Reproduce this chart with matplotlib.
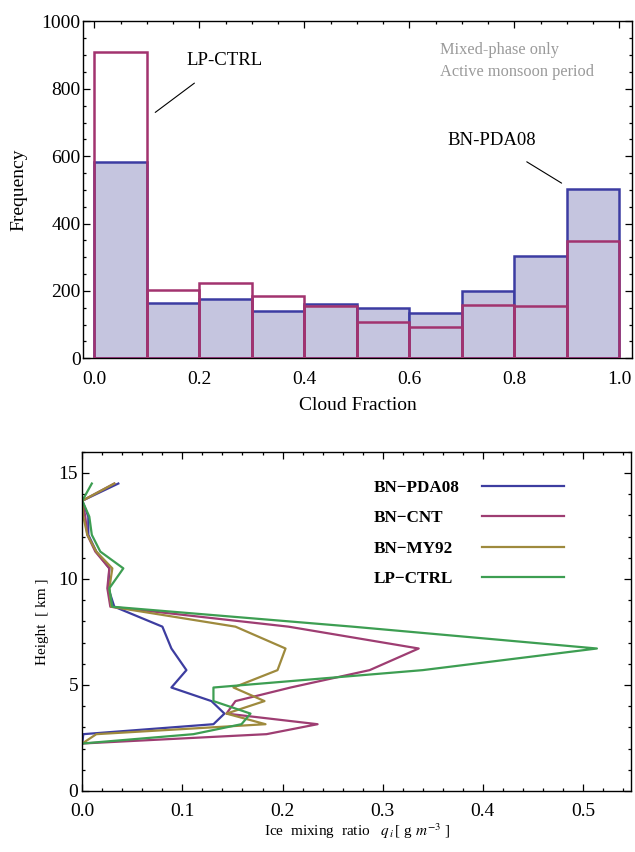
import numpy as np
import matplotlib
matplotlib.use("Agg")
import matplotlib.pyplot as plt
from matplotlib.ticker import MultipleLocator

plt.rcParams['font.family'] = ['Liberation Serif', 'DejaVu Serif']
plt.rcParams['mathtext.fontset'] = 'stix'

# ---------------- data: histogram ----------------
bin_edges = [0.0, 0.1, 0.2, 0.3, 0.4, 0.5, 0.6, 0.7, 0.8, 0.9, 1.0]
freq_bn_pda08 = [582, 165, 176, 139, 160, 148, 135, 199, 304, 504]
freq_lp_ctrl = [908, 204, 222, 184, 155, 107, 92, 158, 156, 349]

# ---------------- data: ice profiles ----------------
height_km = [14.50, 13.69, 12.94, 12.08, 11.29, 10.50, 9.56, 8.69, 7.75,
             6.72, 5.70, 4.88, 4.24, 3.65, 3.15, 2.68, 2.24]
qi_bn_pda08 = [0.036, 0.000, 0.006, 0.006, 0.014, 0.027, 0.026, 0.032, 0.080,
               0.089, 0.104, 0.089, 0.129, 0.142, 0.131, 0.001, 0.000]
qi_bn_cnt = [0.032, 0.000, 0.003, 0.005, 0.013, 0.027, 0.025, 0.028, 0.206,
             0.336, 0.287, 0.208, 0.153, 0.144, 0.235, 0.184, 0.000]
qi_bn_my92 = [0.032, 0.000, 0.001, 0.005, 0.014, 0.030, 0.027, 0.029, 0.153,
              0.203, 0.195, 0.151, 0.182, 0.144, 0.183, 0.014, 0.000]
qi_lp_ctrl = [0.0095, 0.000, 0.007, 0.0095, 0.018, 0.041, 0.027, 0.030, 0.270,
              0.514, 0.340, 0.131, 0.131, 0.168, 0.159, 0.111, 0.000]

series_names = ['BN\u2212PDA08', 'BN\u2212CNT', 'BN\u2212MY92', 'LP\u2212CTRL']
series_vals = [qi_bn_pda08, qi_bn_cnt, qi_bn_my92, qi_lp_ctrl]
series_cols = ['#3d3da0', '#9e3d72', '#9e8a3d', '#3d9e52']

blue = '#3c3ca2'
magenta = '#a2336f'
lavender = '#c5c5df'

fig = plt.figure(figsize=(6.35, 8.52), dpi=100)

def style_axes(ax):
    for s in ax.spines.values():
        s.set_linewidth(1.0)
    ax.tick_params(which='both', direction='in', top=True, right=True,
                   labelsize=14, width=0.9)
    ax.tick_params(which='major', length=5)
    ax.tick_params(which='minor', length=2.5)

# ---------------- top: histogram ----------------
ax1 = fig.add_axes([0.1312, 0.5795, 0.8640, 0.3953])
edges = np.array(bin_edges)
lefts = edges[:-1]
widths = np.diff(edges)
ax1.bar(lefts, freq_bn_pda08, width=widths, align='edge', facecolor=lavender,
        edgecolor=blue, linewidth=1.8, zorder=2)
ax1.bar(lefts, freq_lp_ctrl, width=widths, align='edge', fill=False,
        edgecolor=magenta, linewidth=1.8, zorder=3)
ax1.set_xlim(-0.021, 1.024)
ax1.set_ylim(0, 1000)
ax1.xaxis.set_major_locator(MultipleLocator(0.2))
ax1.xaxis.set_minor_locator(MultipleLocator(0.05))
ax1.yaxis.set_major_locator(MultipleLocator(200))
ax1.yaxis.set_minor_locator(MultipleLocator(50))
ax1.xaxis.set_major_formatter(plt.FuncFormatter(lambda v, p: f"{v:.1f}"))
style_axes(ax1)
ax1.tick_params(axis='y', pad=2)
ax1.tick_params(axis='x', pad=9)
ax1.set_xlabel('Cloud Fraction', fontsize=14, labelpad=7)
ax1.set_ylabel('Frequency', fontsize=14, labelpad=10)

ax1.annotate('LP-CTRL', xy=(0.116, 730), xytext=(0.249, 885), fontsize=13.5,
             ha='center', va='center',
             arrowprops=dict(arrowstyle='-', color='black', lw=0.8,
                             shrinkA=14, shrinkB=0))
ax1.annotate('BN-PDA08', xy=(0.890, 520), xytext=(0.757, 647), fontsize=13.5,
             ha='center', va='center',
             arrowprops=dict(arrowstyle='-', color='black', lw=0.8,
                             shrinkA=14, shrinkB=0))
ax1.text(0.658, 915, 'Mixed-phase only', fontsize=11.8, color='#9a9a9a',
         ha='left', va='center')
ax1.text(0.658, 849, 'Active monsoon period', fontsize=11.8, color='#9a9a9a',
         ha='left', va='center')

# ---------------- bottom: profiles ----------------
ax2 = fig.add_axes([0.1296, 0.0716, 0.8640, 0.3982])
for name, vals, col in zip(series_names, series_vals, series_cols):
    ax2.plot(vals, height_km, color=col, lw=1.6, label=name)
ax2.set_xlim(0, 0.548)
ax2.set_ylim(0, 16)
ax2.xaxis.set_major_locator(MultipleLocator(0.1))
ax2.xaxis.set_minor_locator(MultipleLocator(0.02))
ax2.yaxis.set_major_locator(MultipleLocator(5))
ax2.yaxis.set_minor_locator(MultipleLocator(1))
ax2.xaxis.set_major_formatter(plt.FuncFormatter(lambda v, p: f"{v:.1f}"))
style_axes(ax2)
ax2.tick_params(axis='y', pad=3)
ax2.tick_params(axis='x', pad=9)
ax2.set_xlabel('Ice  mixing  ratio   $q_{\\,i}\\,$[ g $m^{-3}$ ]', fontsize=11,
               labelpad=1)
ax2.set_ylabel('Height  [ km ]', fontsize=11, labelpad=7)

leg_fs = 12.3
leg = ax2.legend(loc='upper right', bbox_to_anchor=(0.906, 0.963),
                 frameon=False, markerfirst=False, handlelength=4.8,
                 handletextpad=1.3, labelspacing=0.85,
                 prop={'family': 'Liberation Serif', 'weight': 'bold',
                       'size': leg_fs})

# left-align legend labels while keeping the sample lines aligned
renderer = fig.canvas.get_renderer()
texts = leg.get_texts()
wids = [t.get_window_extent(renderer).width for t in texts]
maxw = max(wids)
px_per_pt = fig.dpi / 72.0
column = leg._legend_handle_box.get_children()[0]
column.align = 'left'
for item, w in zip(column.get_children(), wids):
    item.sep = item.sep + (maxw - w) / px_per_pt

fig.savefig('out.png', dpi=100)
